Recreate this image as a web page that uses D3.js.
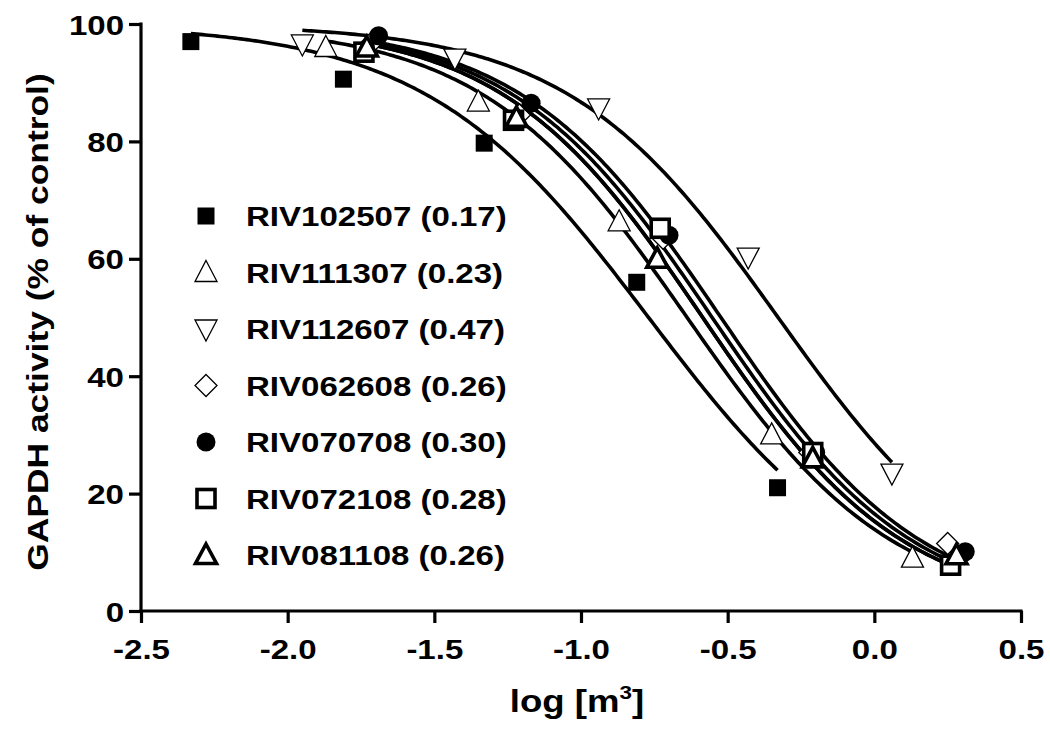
<!DOCTYPE html>
<html>
<head>
<meta charset="utf-8">
<script src="https://cdn.jsdelivr.net/npm/d3@7"></script>
<style>
  html, body { margin: 0; padding: 0; background: #fff; }
  svg { display: block; font-family: "Liberation Sans", Arial, sans-serif; font-weight: bold; }
</style>
</head>
<body>
<div id="chart"></div>
<script>
// ---- data ----
const seriesNames = ["RIV102507", "RIV111307", "RIV112607", "RIV062608", "RIV070708", "RIV072108", "RIV081108"];
const ic50Labels  = ["0.17", "0.23", "0.47", "0.26", "0.30", "0.28", "0.26"];
const ic50Values  = [0.17, 0.23, 0.47, 0.26, 0.30, 0.28, 0.26];
const hillSlopes  = [1.14, 1.24, 1.21, 1.27, 1.27, 1.27, 1.27];
const markerTypes = ["squareFilled", "triangleUp", "triangleDown", "diamond", "circleFilled", "squareOpen", "triangleBold"];

const x_RIV102507 = [-2.33, -1.81, -1.33, -0.81, -0.33];
const y_RIV102507 = [97.0, 90.6, 79.7, 56.0, 21.0];
const x_RIV111307 = [-1.87, -1.35, -0.87, -0.35, 0.13];
const y_RIV111307 = [96.0, 86.7, 66.3, 30.0, 9.0];
const x_RIV112607 = [-1.95, -1.43, -0.94, -0.43, 0.06];
const y_RIV112607 = [96.6, 94.2, 85.7, 60.3, 23.5];
const x_RIV062608 = [-1.72, -1.21, -0.72, -0.22, 0.25];
const y_RIV062608 = [96.5, 84.5, 63.5, 27.0, 11.5];
const x_RIV070708 = [-1.69, -1.17, -0.70, -0.20, 0.31];
const y_RIV070708 = [98.0, 86.5, 64.0, 27.0, 10.1];
const x_RIV072108 = [-1.74, -1.23, -0.73, -0.21, 0.26];
const y_RIV072108 = [95.2, 83.6, 65.2, 27.0, 7.8];
const x_RIV081108 = [-1.73, -1.22, -0.74, -0.21, 0.28];
const y_RIV081108 = [96.0, 84.0, 60.0, 26.0, 9.5];

const xTicks = [-2.5, -2.0, -1.5, -1.0, -0.5, 0.0, 0.5];
const yTicks = [0, 20, 40, 60, 80, 100];

const seriesX = [x_RIV102507, x_RIV111307, x_RIV112607, x_RIV062608, x_RIV070708, x_RIV072108, x_RIV081108];
const seriesY = [y_RIV102507, y_RIV111307, y_RIV112607, y_RIV062608, y_RIV070708, y_RIV072108, y_RIV081108];

// ---- layout ----
const W = 1050, H = 734;
const X0 = 141, X1 = 1021, Y0 = 611, Y1 = 24;
const STRETCH = 1.18;

const svg = d3.select("#chart").append("svg").attr("width", W).attr("height", H);

const x = d3.scaleLinear().domain([-2.5, 0.5]).range([X0, X1]);
const y = d3.scaleLinear().domain([0, 100]).range([Y0, Y1]);

// fitted sigmoid curves (top 100, bottom 0, IC50 from legend)
const model = (i, lx) => 100 / (1 + Math.pow(10, (lx - Math.log10(ic50Values[i])) * hillSlopes[i]));
const line = d3.line().x(d => x(d[0])).y(d => y(d[1]));
const curves = svg.append("g");
seriesNames.forEach((name, i) => {
  const xs = seriesX[i];
  const lo = d3.min(xs), hi = d3.max(xs);
  const pts = d3.range(0, 201).map(k => {
    const lx = lo + (hi - lo) * k / 200;
    return [lx, model(i, lx)];
  });
  curves.append("path").attr("d", line(pts))
    .attr("fill", "none").attr("stroke", "#000").attr("stroke-width", 3.6)
    .attr("stroke-linejoin", "round");
});

// markers
function drawMarker(g, type, cx, cy) {
  const s = g.append("g").attr("transform", `translate(${cx},${cy})`);
  switch (type) {
    case "squareFilled":
      s.append("rect").attr("x", -8.5).attr("y", -8.5).attr("width", 17).attr("height", 17).attr("fill", "#000");
      break;
    case "squareOpen":
      s.append("rect").attr("x", -9).attr("y", -9).attr("width", 18).attr("height", 18)
        .attr("fill", "#fff").attr("stroke", "#000").attr("stroke-width", 3.6);
      break;
    case "circleFilled":
      s.append("circle").attr("r", 9.5).attr("fill", "#000");
      break;
    case "triangleUp":
      s.append("path").attr("d", "M0,-12 L11,9 L-11,9 Z").attr("fill", "#fff").attr("stroke", "#000").attr("stroke-width", 1.3);
      break;
    case "triangleDown":
      s.append("path").attr("d", "M0,12 L11,-9 L-11,-9 Z").attr("fill", "#fff").attr("stroke", "#000").attr("stroke-width", 1.3);
      break;
    case "diamond":
      s.append("path").attr("d", "M0,-11 L11,0 L0,11 L-11,0 Z").attr("fill", "#fff").attr("stroke", "#000").attr("stroke-width", 1.3);
      break;
    case "triangleBold":
      s.append("path").attr("d", "M0,-11 L10.5,8.5 L-10.5,8.5 Z").attr("fill", "#fff").attr("stroke", "#000").attr("stroke-width", 3.6).attr("stroke-linejoin", "miter");
      break;
  }
}
const marks = svg.append("g");
seriesNames.forEach((name, i) => {
  seriesX[i].forEach((vx, j) => drawMarker(marks, markerTypes[i], x(vx), y(seriesY[i][j])));
});

// axes
const hyphenFmt = d => d3.format(".1f")(d).replace("\u2212", "-");
const xAxis = svg.append("g").attr("transform", `translate(0,${Y0})`)
  .call(d3.axisBottom(x).tickValues(xTicks).tickSize(12).tickSizeOuter(0).tickFormat(hyphenFmt));
const yAxis = svg.append("g").attr("transform", `translate(${X0},0)`)
  .call(d3.axisLeft(y).tickValues(yTicks).tickSize(12).tickSizeOuter(0).tickFormat(d3.format("d")));
[xAxis, yAxis].forEach(a => {
  a.select(".domain").attr("stroke", "#000").attr("stroke-width", 3.2);
  a.selectAll(".tick line").attr("stroke", "#000").attr("stroke-width", 3.2);
  a.selectAll("text").attr("font-size", 28).attr("font-weight", "bold")
    .attr("font-family", "'Liberation Sans', Arial, sans-serif").attr("fill", "#000");
});
xAxis.select(".domain").attr("d", `M${X0 - 1.6},0H${X1 + 1.6}`);
yAxis.select(".domain").attr("d", `M0,${Y0 + 1.6}V${Y1 - 1.6}`);

xAxis.selectAll(".tick text").attr("y", 0).attr("dy", 0)
  .attr("transform", `translate(0,48) scale(${STRETCH},1)`);
yAxis.selectAll(".tick text").attr("x", 0).attr("dy", 0)
  .attr("transform", `translate(-17,10) scale(${STRETCH},1)`);

// axis titles
svg.append("text").attr("text-anchor", "middle").attr("font-size", 30)
  .attr("transform", `translate(48,322) rotate(-90) scale(${STRETCH},1)`)
  .text("GAPDH activity (% of control)");

const xt = svg.append("text").attr("text-anchor", "middle").attr("font-size", 31)
  .attr("transform", `translate(577,712) scale(${STRETCH},1)`);
xt.append("tspan").text("log [m");
xt.append("tspan").attr("font-size", 19).attr("dy", -13).text("3");
xt.append("tspan").attr("dy", 13).text("]");

// legend
const legendTop = 216, legendStep = 56.5;
const legend = svg.append("g");
seriesNames.forEach((name, i) => {
  const cy = legendTop + i * legendStep;
  drawMarker(legend, markerTypes[i], 206, cy);
  legend.append("text").attr("font-size", 28)
    .attr("transform", `translate(246,${cy + 10}) scale(${STRETCH},1)`)
    .text(`${name} (${ic50Labels[i]})`);
});
</script>
</body>
</html>
